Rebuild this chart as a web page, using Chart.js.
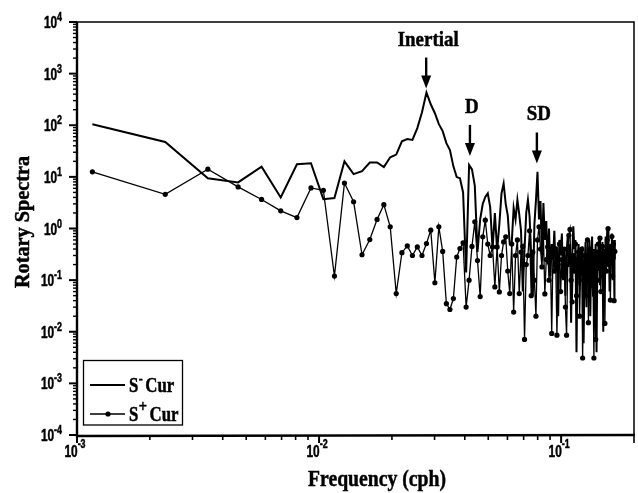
<!DOCTYPE html>
<html>
<head>
<meta charset="utf-8">
<script src="https://cdn.jsdelivr.net/npm/chart.js@4.4.1/dist/chart.umd.min.js"></script>
<style>
html, body { margin: 0; padding: 0; background: #fff; }
canvas { display: block; }
</style>
</head>
<body>
<canvas id="myChart" width="638" height="493"></canvas>
<script>
// spectral grid: step 1/864 cph up to the Nyquist 1/6 cph
let df = 1 / 864
let freqs = Array.from({ length: 144 }, (_, i) => (i + 1) * df)

// S- Cur (clockwise)
let sMinus = [
  105, 47.5, 9.4, 7.8, 15.8, 4.0, 17.6, 18.4, 3.7, 3.9,
  20, 11.3, 12.9, 19, 19, 15.5, 24, 27, 49, 54,
  52, 88, 179, 430, 255, 171, 105, 77, 45, 33,
  16, 9.9, 9.4, 5, 0.14, 17, 14, 6.8, 0.35, 1.5,
  3.0, 4.1, 4.8, 2.6, 0.4, 2.0, 0.38, 1.2, 4.8, 7.4,
  3.0, 1.8, 0.5, 0.52, 2.5, 1.5, 3.6, 1.9, 0.9, 0.06,
  0.4, 2.0, 3.6, 1.7, 0.3, 0.05, 1.2, 3.5, 12.6, 1.5,
  3.4, 0.3, 3.1, 0.6, 1.4, 0.2, 1.0, 0.12, 0.5, 0.25,
  0.9, 0.15, 0.45, 0.02, 0.6, 0.3, 0.8, 0.1, 0.4, 0.05,
  0.35, 0.7, 0.2, 0.5, 0.015, 0.3, 1.1, 0.4, 0.6, 0.004,
  0.25, 0.5, 0.08, 0.35, 0.15, 0.45, 0.006, 0.2, 0.55, 0.03,
  0.3, 0.1, 0.6, 0.02, 0.25, 0.7, 0.05, 0.4, 0.12, 0.5,
  0.004, 0.3, 0.15, 0.6, 0.08, 0.35, 0.2, 0.55, 0.01, 0.4,
  0.15, 0.7, 0.3, 1.0, 0.2, 0.5, 0.06, 0.45, 0.2, 0.8,
  0.1, 0.35, 0.6, 0.25
]

// S+ Cur (anticlockwise)
let sPlus = [
  12.5, 4.6, 14.1, 6.4, 3.65, 2.2, 1.63, 6.1, 5.5, 0.12,
  7.6, 3.3, 0.31, 0.61, 1.5, 2.9, 1.08, 0.055, 0.34, 0.46,
  0.3, 0.44, 0.3, 0.51, 0.93, 0.089, 1.08, 0.36, 0.035, 0.027,
  0.044, 0.28, 0.41, 0.53, 0.03, 0.1, 0.45, 1.35, 0.24, 0.048,
  0.69, 1.45, 0.5, 0.3, 0.44, 0.074, 0.44, 0.059, 0.3, 0.55,
  0.69, 0.15, 0.055, 0.5, 0.024, 0.3, 0.6, 0.055, 0.35, 0.45,
  0.0071, 0.2, 0.3, 0.9, 0.05, 0.35, 0.1, 0.02, 0.6, 1.08,
  0.4, 0.18, 0.7, 0.054, 0.25, 0.44, 0.1, 0.3, 0.0093, 0.4,
  0.15, 0.3, 0.0086, 0.2, 0.5, 0.06, 0.25, 0.12, 0.4, 0.03,
  0.0086, 0.2, 0.74, 0.96, 0.1, 0.038, 0.3, 0.15, 0.5, 0.05,
  0.2, 0.35, 0.02, 0.15, 0.4, 0.0031, 0.1, 0.3, 0.05, 0.25,
  0.6, 0.015, 0.2, 0.4, 0.08, 0.3, 0.12, 0.0031, 0.2, 0.0071,
  0.35, 0.1, 0.5, 0.2, 0.65, 0.06, 0.3, 0.45, 0.12, 0.25,
  0.0145, 0.35, 0.15, 0.6, 1.0, 0.2, 0.45, 0.041, 0.3, 0.7,
  0.12, 0.5, 0.04, 0.36
]

let xDecades = [-3, -2, -1]
let yDecades = [-4, -3, -2, -1, 0, 1, 2, 3, 4]

// peak labels: frequency and value at arrow tip
let peakLabels = ['Inertial', 'D', 'SD']
let peakFreqs = [0.0277, 0.042, 0.0794]
let peakTips = [514, 25.5, 18.2]

let legendLabels = ['S', 'S']
let legendSups = ['-', '+']

const serif = 'Liberation Serif, Times New Roman, serif'
const sans = 'Liberation Sans, Arial, sans-serif'

// text squeezed horizontally like the original narrow fonts
const drawText = (ctx, text, x, y, font, sx, align) => {
  ctx.save()
  ctx.font = font
  let w = ctx.measureText(text).width * sx
  let dx = align === 'center' ? -w / 2 : align === 'right' ? -w : 0
  ctx.translate(x + dx, y)
  ctx.scale(sx, 1)
  ctx.textAlign = 'left'
  ctx.textBaseline = 'alphabetic'
  ctx.fillText(text, 0, 0)
  ctx.lineWidth = 0.5
  ctx.strokeText(text, 0, 0)
  ctx.restore()
  return w
}

const measure = (ctx, text, font, sx) => {
  ctx.font = font
  return ctx.measureText(text).width * sx
}

const tick = (ctx, x1, y1, x2, y2, w) => {
  ctx.lineWidth = w
  ctx.beginPath()
  ctx.moveTo(x1, y1)
  ctx.lineTo(x2, y2)
  ctx.stroke()
}

const axesPlugin = {
  id: 'axesPlugin',
  afterDraw (chart) {
    let ctx = chart.ctx
    let a = chart.chartArea
    let xs = chart.scales.x
    let ys = chart.scales.y
    ctx.save()
    ctx.fillStyle = '#000'
    ctx.strokeStyle = '#000'

    // frame
    ctx.lineWidth = 1.5
    ctx.beginPath()
    ctx.moveTo(a.left, a.top); ctx.lineTo(a.right, a.top); ctx.lineTo(a.right, a.bottom)
    ctx.stroke()
    ctx.lineWidth = 2.4
    ctx.beginPath()
    ctx.moveTo(a.left, a.top); ctx.lineTo(a.left, a.bottom + 1); ctx.lineTo(a.right + 1, a.bottom)
    ctx.stroke()

    let f10 = 'bold 16px ' + sans
    let fe = 'bold 12px ' + sans

    // y ticks and labels
    yDecades.forEach(e => {
      let y = ys.getPixelForValue(Math.pow(10, e))
      tick(ctx, a.left, y, a.left - 8, y, 2)
      if (e < 4) {
        for (let m = 2; m <= 9; m++) {
          let ym = ys.getPixelForValue(m * Math.pow(10, e))
          tick(ctx, a.left, ym, a.left - 4, ym, 1.4)
        }
      }
      let es = String(e)
      let w10 = measure(ctx, '10', f10, 0.74)
      let we = measure(ctx, es, fe, 0.74)
      let x0 = 62 - w10 - we
      drawText(ctx, '10', x0, y + 6, f10, 0.74, 'left')
      drawText(ctx, es, x0 + w10, y - 1, fe, 0.74, 'left')
    })

    // x ticks and labels
    xDecades.forEach(e => {
      let x = xs.getPixelForValue(Math.pow(10, e))
      tick(ctx, x, a.bottom, x, a.bottom + 8, 2)
      let mMax = e === -1 ? 2 : 9
      for (let m = 2; m <= mMax; m++) {
        let xm = xs.getPixelForValue(m * Math.pow(10, e))
        let len = (e === -1 && m === 2) ? 8 : 5
        tick(ctx, xm, a.bottom, xm, a.bottom + len, 1.6)
      }
      let es = String(e)
      let w10 = measure(ctx, '10', f10, 0.74)
      let we = measure(ctx, es, fe, 0.74)
      let x0 = x - 2 - (w10 + we) / 2
      drawText(ctx, '10', x0, 457, f10, 0.74, 'left')
      drawText(ctx, es, x0 + w10, 448, fe, 0.74, 'left')
    })

    // axis titles
    drawText(ctx, 'Frequency (cph)', 377, 486, 'bold 24px ' + serif, 0.82, 'center')
    ctx.save()
    ctx.translate(29, 222)
    ctx.rotate(-Math.PI / 2)
    drawText(ctx, 'Rotary Spectra', 0, 0, 'bold 22px ' + serif, 0.92, 'center')
    ctx.restore()

    // peak arrows and labels
    peakLabels.forEach((t, i) => {
      let x = xs.getPixelForValue(peakFreqs[i])
      let y = ys.getPixelForValue(peakTips[i])
      tick(ctx, x, y - 31, x, y - 8, 2.4)
      ctx.beginPath()
      ctx.moveTo(x, y); ctx.lineTo(x - 5, y - 13); ctx.lineTo(x + 5, y - 13); ctx.closePath()
      ctx.fill()
      drawText(ctx, t, x + 2, y - 43, 'bold 22px ' + serif, 0.86, 'center')
    })

    // legend
    ctx.lineWidth = 1.3
    ctx.strokeRect(83.5, 360.5, 99, 64.5)
    let rows = [385, 414]
    rows.forEach((ry, i) => {
      tick(ctx, 90, ry, 125, ry, i === 0 ? 2 : 1.3)
      if (i === 1) {
        ctx.beginPath(); ctx.arc(108, ry, 2.6, 0, Math.PI * 2); ctx.fill()
      }
      let base = ry + 7
      let ws = drawText(ctx, legendLabels[i], 129, base, 'bold 21px ' + serif, 0.8, 'left')
      let supFont = i === 0 ? 'bold 14px ' + serif : 'bold 17px ' + serif
      let wsup = drawText(ctx, legendSups[i], 129 + ws + 0.5, base - 9, supFont, 0.85, 'left')
      drawText(ctx, 'Cur', 129 + ws + wsup + 3, base, 'bold 21px ' + serif, 0.8, 'left')
    })
    ctx.restore()
  }
}

let ctx = document.getElementById('myChart').getContext('2d')

let myChart = new Chart(ctx, {
  type: 'line',
  data: {
    datasets: [{
      label: 'S- Cur',
      data: freqs.map((f, i) => ({ x: f, y: sMinus[i] })),
      borderColor: '#000',
      borderWidth: 2,
      pointRadius: 0,
      fill: false,
      tension: 0
    }, {
      label: 'S+ Cur',
      data: freqs.map((f, i) => ({ x: f, y: sPlus[i] })),
      borderColor: '#000',
      borderWidth: 1.3,
      pointRadius: 2.6,
      pointBackgroundColor: '#000',
      pointBorderWidth: 0,
      fill: false,
      tension: 0
    }]
  },
  options: {
    responsive: false,
    devicePixelRatio: 1,
    animation: false,
    layout: { padding: { top: 22, right: 3, left: 0, bottom: 0 } },
    plugins: { legend: { display: false }, tooltip: { enabled: false } },
    scales: {
      x: {
        type: 'logarithmic',
        min: 0.001,
        max: 0.2,
        ticks: { display: false },
        grid: { display: false },
        border: { display: false },
        afterFit: (scale) => { scale.height = 58 }
      },
      y: {
        type: 'logarithmic',
        min: 1e-4,
        max: 1e4,
        ticks: { display: false },
        grid: { display: false },
        border: { display: false },
        afterFit: (scale) => { scale.width = 77 }
      }
    }
  },
  plugins: [axesPlugin]
})
</script>
</body>
</html>
